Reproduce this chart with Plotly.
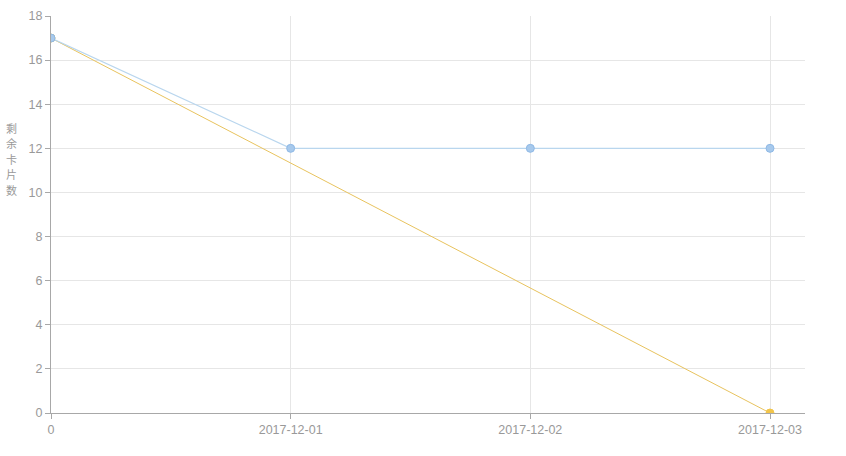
import plotly.graph_objects as go

categories = ["0", "2017-12-01", "2017-12-02", "2017-12-03"]
actual_values = [17, 12, 12, 12]
ideal_values = [17, None, None, 0]
y_ticks = [0, 2, 4, 6, 8, 10, 12, 14, 16, 18]
y_title = "剩余卡片数"

FONT = "Liberation Sans, Arial, Noto Sans CJK SC, sans-serif"

fig = go.Figure()
fig.add_trace(go.Scatter(
    x=categories, y=ideal_values, mode="lines+markers", connectgaps=True,
    line=dict(color="#e8c35e", width=1),
    marker=dict(size=8, color="#f2c54a", line=dict(color="#f2c54a", width=1)),
    showlegend=False, hoverinfo="x+y"))
fig.add_trace(go.Scatter(
    x=categories, y=actual_values, mode="lines+markers",
    line=dict(color="#b9d6ee", width=1.2),
    marker=dict(size=8, color="#a7c9ec", line=dict(color="#8fb9e6", width=1)),
    showlegend=False, hoverinfo="x+y"))

# vertical (upright, stacked) axis title, one annotation per character
title_center = 0.64
char_step = 15.5 / 397.0
n = len(y_title)
annotations = []
for i, ch in enumerate(y_title):
    annotations.append(dict(
        text=ch, xref="paper", yref="paper",
        x=-0.052, y=title_center + ((n - 1) / 2 - i) * char_step,
        showarrow=False, xanchor="center", yanchor="middle",
        font=dict(size=11, color="#999", family="Noto Sans CJK SC")))

fig.update_layout(
    width=846, height=456,
    margin=dict(l=51, r=41, t=16, b=43),
    paper_bgcolor="white", plot_bgcolor="white",
    font=dict(family=FONT, size=12, color="#999"),
    xaxis=dict(type="category", range=[0, 3.146], showgrid=True,
               gridcolor="#e6e6e6", gridwidth=1, zeroline=False,
               showline=True, linecolor="#a8a8a8", linewidth=1,
               ticks="outside", ticklen=5, tickcolor="#a8a8a8",
               automargin=False,
               tickfont=dict(size=12.5, color="#999")),
    yaxis=dict(range=[0, 18], tickvals=y_ticks, showgrid=True,
               gridcolor="#e6e6e6", gridwidth=1, zeroline=False,
               showline=True, linecolor="#a8a8a8", linewidth=1,
               ticks="outside", ticklen=5, tickcolor="#a8a8a8",
               automargin=False,
               tickfont=dict(size=12.5, color="#999")),
    annotations=annotations,
)

fig.write_html("out.html",
               config={"displayModeBar": False},
               post_script="document.body.style.margin='0';document.body.style.overflow='hidden';")
